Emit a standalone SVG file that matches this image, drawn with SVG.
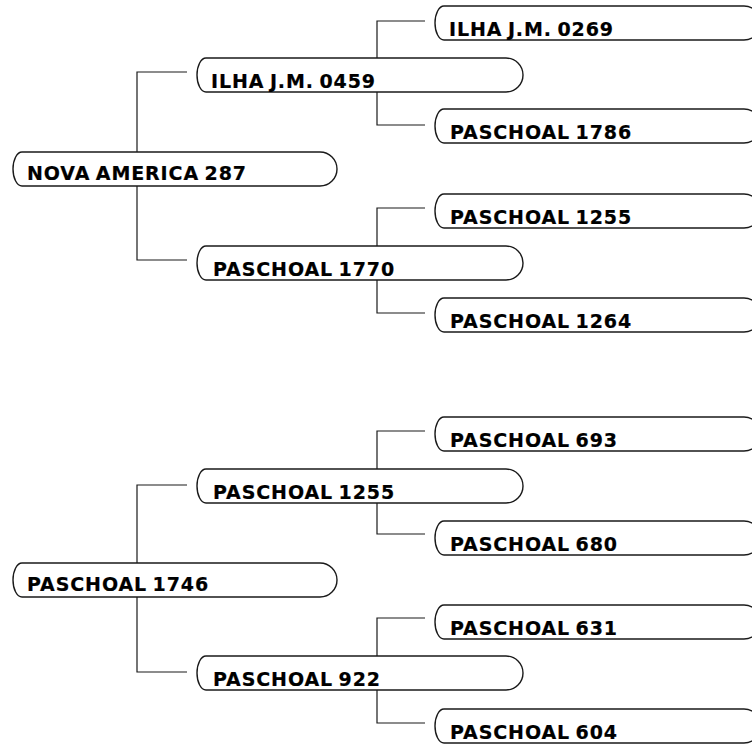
<svg xmlns="http://www.w3.org/2000/svg" width="752" height="744" viewBox="0 0 752 744">
<style>
.bx{fill:#fff;stroke:#1a1a1a;stroke-width:1.4}
.ln{fill:none;stroke:#1a1a1a;stroke-width:1.2}
.t{font-family:"DejaVu Sans",Verdana,sans-serif;font-weight:bold;font-size:19px;letter-spacing:0.9px;word-spacing:-2px;fill:#000;stroke:#000;stroke-width:0.2}
</style>
<rect width="752" height="744" fill="#fff"/>
<g id="connectors" class="ln">
<path d="M187,72 H137 V260 H187"/>
<path d="M425,21 H377 V125 H425"/>
<path d="M425,208 H377 V313 H425"/>
<path d="M187,485 H137 V672 H187"/>
<path d="M425,431 H377 V534 H425"/>
<path d="M425,618 H377 V723 H425"/>
</g>
<g id="n-nova-america-287"><path class="bx" d="M22,152 H320 A17,17 0 0 1 320,186 H22 A9,17 0 0 1 22,152 Z"/><text class="t" x="27" y="180">NOVA AMERICA 287</text></g>
<g id="n-ilha-0459"><path class="bx" d="M206,58 H506 A17,17 0 0 1 506,92 H206 A9,17 0 0 1 206,58 Z"/><text class="t" x="211" y="88">ILHA J.M. 0459</text></g>
<g id="n-paschoal-1770"><path class="bx" d="M206,246 H506 A17,17 0 0 1 506,280 H206 A9,17 0 0 1 206,246 Z"/><text class="t" x="213" y="276">PASCHOAL 1770</text></g>
<g id="n-ilha-0269"><path class="bx" d="M444,6 H744 A17,17 0 0 1 744,40 H444 A9,17 0 0 1 444,6 Z"/><text class="t" x="449" y="36">ILHA J.M. 0269</text></g>
<g id="n-paschoal-1786"><path class="bx" d="M444,109 H744 A17,17 0 0 1 744,143 H444 A9,17 0 0 1 444,109 Z"/><text class="t" x="450" y="139">PASCHOAL 1786</text></g>
<g id="n-paschoal-1255a"><path class="bx" d="M444,194 H744 A17,17 0 0 1 744,228 H444 A9,17 0 0 1 444,194 Z"/><text class="t" x="450" y="224">PASCHOAL 1255</text></g>
<g id="n-paschoal-1264"><path class="bx" d="M444,298 H744 A17,17 0 0 1 744,332 H444 A9,17 0 0 1 444,298 Z"/><text class="t" x="450" y="328">PASCHOAL 1264</text></g>
<g id="n-paschoal-1746"><path class="bx" d="M22,563 H320 A17,17 0 0 1 320,597 H22 A9,17 0 0 1 22,563 Z"/><text class="t" x="27" y="591">PASCHOAL 1746</text></g>
<g id="n-paschoal-1255b"><path class="bx" d="M206,469 H506 A17,17 0 0 1 506,503 H206 A9,17 0 0 1 206,469 Z"/><text class="t" x="213" y="499">PASCHOAL 1255</text></g>
<g id="n-paschoal-922"><path class="bx" d="M206,656 H506 A17,17 0 0 1 506,690 H206 A9,17 0 0 1 206,656 Z"/><text class="t" x="213" y="686">PASCHOAL 922</text></g>
<g id="n-paschoal-693"><path class="bx" d="M444,417 H744 A17,17 0 0 1 744,451 H444 A9,17 0 0 1 444,417 Z"/><text class="t" x="450" y="447">PASCHOAL 693</text></g>
<g id="n-paschoal-680"><path class="bx" d="M444,521 H744 A17,17 0 0 1 744,555 H444 A9,17 0 0 1 444,521 Z"/><text class="t" x="450" y="551">PASCHOAL 680</text></g>
<g id="n-paschoal-631"><path class="bx" d="M444,605 H744 A17,17 0 0 1 744,639 H444 A9,17 0 0 1 444,605 Z"/><text class="t" x="450" y="635">PASCHOAL 631</text></g>
<g id="n-paschoal-604"><path class="bx" d="M444,709 H744 A17,17 0 0 1 744,743 H444 A9,17 0 0 1 444,709 Z"/><text class="t" x="450" y="739">PASCHOAL 604</text></g>
</svg>
